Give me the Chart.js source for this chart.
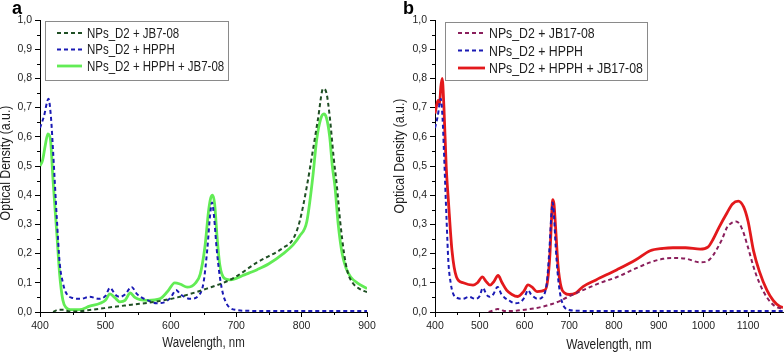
<!DOCTYPE html>
<html>
<head>
<meta charset="utf-8">
<script src="https://cdn.jsdelivr.net/npm/chart.js@4.4.1/dist/chart.umd.min.js"></script>
<style>
  body { margin: 0; background: #fff; width: 784px; height: 352px; overflow: hidden; position: relative; }
  canvas { position: absolute; top: 0; }
  #chartA { left: 0; }
  #chartB { left: 392px; }
</style>
</head>
<body>
<canvas id="chartA" width="392" height="352"></canvas>
<canvas id="chartB" width="392" height="352"></canvas>
<script>
'use strict';

// ---- data (wavelength in nm, optical density in a.u.) ----

// NPs_D2 + HPPH (same spectrum in both panels)
const hpphNm = [400, 406, 413, 417, 420, 426, 430, 435, 440, 450, 462, 476, 490, 500, 507, 515, 522, 530, 540, 548,
  555, 565, 578, 590, 600, 608, 615, 630, 642, 650, 656, 660, 663, 666, 670, 675, 680, 685, 690, 700, 720, 800, 900,
  1000, 1100, 1178];
const hpphOd = [0.63, 0.67, 0.73, 0.66, 0.55, 0.31, 0.17, 0.10, 0.065, 0.048, 0.045, 0.052, 0.045, 0.055, 0.083, 0.06,
  0.052, 0.06, 0.086, 0.062, 0.05, 0.04, 0.03, 0.033, 0.05, 0.075, 0.06, 0.045, 0.055, 0.10, 0.22, 0.33, 0.375, 0.33,
  0.22, 0.12, 0.06, 0.03, 0.015, 0.007, 0.004, 0.003, 0.003, 0.003, 0.003, 0.003];

// panel a: NPs_D2 + JB7-08
const jb7Nm = [420, 428, 436, 445, 455, 480, 511, 540, 576, 610, 655, 695, 732, 772, 787, 797, 808, 817, 825, 833,
  838, 843, 849, 854, 859, 865, 870, 878, 888, 900];
const jb7Od = [0.0, 0.008, 0.008, 0.002, 0.002, 0.008, 0.017, 0.025, 0.035, 0.05, 0.08, 0.115, 0.17, 0.22, 0.25, 0.31,
  0.43, 0.55, 0.66, 0.765, 0.75, 0.67, 0.53, 0.43, 0.31, 0.2, 0.14, 0.10, 0.08, 0.068];

// panel a: NPs_D2 + HPPH + JB7-08
const mixANm = [400, 404, 408, 412, 416, 420, 426, 430, 435, 440, 446, 460, 476, 492, 500, 507, 514, 522, 530, 538,
  545, 553, 565, 583, 595, 606, 615, 625, 638, 645, 652, 658, 661, 664, 667, 671, 675, 682, 690, 700, 710, 720, 732,
  750, 772, 787, 797, 808, 817, 823, 829, 834, 838, 843, 847, 851, 856, 862, 868, 875, 885, 900];
const mixAOd = [0.50, 0.52, 0.57, 0.61, 0.59, 0.45, 0.26, 0.13, 0.04, 0.015, 0.008, 0.008, 0.02, 0.03, 0.04, 0.062,
  0.05, 0.035, 0.04, 0.065, 0.05, 0.042, 0.04, 0.045, 0.07, 0.10, 0.095, 0.085, 0.10, 0.13, 0.22, 0.35, 0.39, 0.40,
  0.37, 0.25, 0.16, 0.115, 0.11, 0.115, 0.125, 0.134, 0.145, 0.165, 0.20, 0.23, 0.26, 0.31, 0.46, 0.59, 0.66, 0.678,
  0.665, 0.60, 0.50, 0.43, 0.30, 0.20, 0.15, 0.12, 0.10, 0.08];

// panel b: NPs_D2 + JB17-08
const jb17Nm = [520, 530, 540, 548, 556, 570, 590, 620, 650, 680, 695, 731, 770, 807, 850, 881, 910, 932, 960, 993,
  1010, 1022, 1030, 1042, 1053, 1063, 1073, 1085, 1100, 1112, 1125, 1142, 1160, 1178];
const jb17Od = [0.0, 0.005, 0.01, 0.008, 0.003, 0.003, 0.006, 0.012, 0.022, 0.038, 0.05, 0.075, 0.10, 0.12, 0.15,
  0.17, 0.182, 0.185, 0.183, 0.17, 0.175, 0.195, 0.215, 0.25, 0.29, 0.305, 0.31, 0.29, 0.22, 0.155, 0.10, 0.05, 0.02,
  0.01];

// panel b: NPs_D2 + HPPH + JB17-08
const mixBNm = [400, 404, 407, 410, 413, 416, 420, 425, 430, 438, 448, 463, 485, 495, 506, 514, 523, 532, 541, 550,
  560, 572, 585, 598, 608, 617, 628, 646, 652, 657, 660, 663, 666, 670, 675, 682, 690, 700, 715, 731, 760, 807, 850,
  881, 910, 932, 960, 993, 1010, 1022, 1035, 1053, 1065, 1078, 1090, 1100, 1112, 1125, 1142, 1156, 1170, 1178];
const mixBOd = [0.68, 0.71, 0.725, 0.71, 0.77, 0.80, 0.70, 0.50, 0.38, 0.21, 0.12, 0.10, 0.092, 0.10, 0.12, 0.105,
  0.092, 0.105, 0.125, 0.10, 0.075, 0.06, 0.053, 0.07, 0.093, 0.085, 0.07, 0.075, 0.11, 0.20, 0.30, 0.385, 0.37, 0.28,
  0.16, 0.085, 0.065, 0.06, 0.065, 0.087, 0.11, 0.145, 0.18, 0.21, 0.218, 0.22, 0.22, 0.215, 0.222, 0.25, 0.29, 0.34,
  0.37, 0.38, 0.36, 0.31, 0.21, 0.14, 0.075, 0.04, 0.02, 0.015];

const labelsA = ['NPs_D2 + JB7-08', 'NPs_D2 + HPPH', 'NPs_D2 + HPPH + JB7-08'];
const labelsB = ['NPs_D2 + JB17-08', 'NPs_D2 + HPPH', 'NPs_D2 + HPPH + JB17-08'];

const SANS = "'Liberation Sans', Arial, sans-serif";
const TEXT = '#1e1e1e';
const SQUEEZE = 0.82;   // Arial Narrow look

const pts = (xs, ys) => xs.map((x, i) => ({ x: x, y: ys[i] }));

function series(label, xs, ys, color, width, dash) {
  return {
    label: label,
    data: pts(xs, ys),
    borderColor: color,
    borderWidth: width,
    borderDash: dash,
    pointRadius: 0,
    fill: false,
    cubicInterpolationMode: 'monotone'
  };
}

// text in a horizontally squeezed Liberation Sans
function narrowText(ctx, text, x, y, size, align, angle) {
  ctx.save();
  ctx.translate(x, y);
  if (angle) ctx.rotate(angle);
  ctx.scale(SQUEEZE, 1);
  ctx.font = size + 'px ' + SANS;
  ctx.fillStyle = TEXT;
  ctx.textAlign = align;
  ctx.textBaseline = 'middle';
  ctx.fillText(text, 0, 0);
  ctx.restore();
}

// minor ticks, legend box, axis titles and panel letter
const decor = {
  id: 'decor',
  afterDraw(chart, args, opts) {
    const ctx = chart.ctx;
    const area = chart.chartArea;
    const xs = chart.scales.x;
    const ys = chart.scales.y;
    ctx.save();

    // minor ticks
    ctx.strokeStyle = '#000';
    ctx.lineWidth = 1;
    ctx.beginPath();
    for (let v = xs.min + 50; v < xs.max; v += 100) {
      const px = Math.round(xs.getPixelForValue(v)) + 0.5;
      ctx.moveTo(px, area.bottom);
      ctx.lineTo(px, area.bottom + 3);
    }
    for (let k = 1; k < 20; k += 2) {
      const py = Math.round(ys.getPixelForValue(k * 0.05)) + 0.5;
      ctx.moveTo(area.left, py);
      ctx.lineTo(area.left - 3, py);
    }
    ctx.stroke();

    // legend
    const b = opts.box;
    ctx.strokeStyle = '#8a8a8a';
    ctx.strokeRect(b.x + 0.5, b.y + 0.5, b.w, b.h);
    chart.data.datasets.forEach((ds, i) => {
      const y = b.y + b.row0 + i * b.gap;
      ctx.beginPath();
      ctx.setLineDash(ds.borderDash || []);
      ctx.strokeStyle = ds.borderColor;
      ctx.lineWidth = ds.borderWidth;
      ctx.moveTo(b.x + b.l0, y);
      ctx.lineTo(b.x + b.l1, y);
      ctx.stroke();
      ctx.setLineDash([]);
      narrowText(ctx, ds.label, b.x + b.tx, y + 1, b.font, 'left', 0);
    });

    // axis titles
    narrowText(ctx, 'Optical Density (a.u.)', opts.yTitle.x, opts.yTitle.y, opts.yTitle.font, 'center', -Math.PI / 2);
    narrowText(ctx, 'Wavelength, nm', (area.left + area.right) / 2, opts.xTitle.y, opts.xTitle.font, 'center', 0);

    // panel letter
    ctx.font = 'bold 18px ' + SANS;
    ctx.fillStyle = '#000';
    ctx.textAlign = 'left';
    ctx.textBaseline = 'alphabetic';
    ctx.fillText(opts.letter, opts.letterX, 14);
    ctx.restore();
  }
};

function makeChart(id, datasets, xMax, yAxisWidth, padRight, decorOpts) {
  return new Chart(document.getElementById(id), {
    type: 'line',
    data: { datasets: datasets },
    plugins: [decor],
    options: {
      responsive: false,
      animation: false,
      devicePixelRatio: 1,
      layout: { padding: { top: 20, right: padRight, left: 0, bottom: 0 } },
      plugins: {
        legend: { display: false },
        tooltip: { enabled: false },
        decor: decorOpts
      },
      scales: {
        x: {
          type: 'linear',
          min: 400,
          max: xMax,
          border: { display: true, color: '#000', width: 1 },
          grid: { display: true, drawOnChartArea: false, drawTicks: true, tickLength: 5, color: '#000' },
          ticks: {
            stepSize: 100,
            autoSkip: false,
            maxRotation: 0,
            includeBounds: false,
            padding: 3,
            color: TEXT,
            font: { family: SANS, size: 10.5 },
            callback: v => String(v)
          },
          title: { display: false },
          afterFit: s => { s.height = 40; }
        },
        y: {
          min: 0,
          max: 1,
          border: { display: true, color: '#000', width: 1 },
          grid: { display: true, drawOnChartArea: false, drawTicks: true, tickLength: 5, color: '#000' },
          ticks: {
            stepSize: 0.1,
            autoSkip: false,
            padding: 3,
            color: TEXT,
            font: { family: SANS, size: 10.5 },
            callback: v => v.toFixed(1).replace('.', ',')
          },
          title: { display: false },
          afterFit: s => { s.width = yAxisWidth; }
        }
      }
    }
  });
}

makeChart('chartA', [
  series(labelsA[0], jb7Nm, jb7Od, '#1f4f24', 2, [4, 3]),
  series(labelsA[1], hpphNm, hpphOd, '#1a1ab4', 2, [4, 3]),
  series(labelsA[2], mixANm, mixAOd, '#62ec55', 2.8, [])
], 900, 40, 25, {
  box: { x: 45, y: 21, w: 183, h: 59, row0: 12, gap: 16.5, l0: 12, l1: 37, tx: 42, font: 14 },
  yTitle: { x: 6, y: 163, font: 15 },
  xTitle: { y: 343, font: 14 },
  letter: 'a',
  letterX: 12
});

makeChart('chartB', [
  series(labelsB[0], jb17Nm, jb17Od, '#8a1f5c', 2, [4, 3]),
  series(labelsB[1], hpphNm, hpphOd, '#1a1ab4', 2, [4, 3]),
  series(labelsB[2], mixBNm, mixBOd, '#e3191c', 2.8, [])
], 1178, 43, 1, {
  box: { x: 53, y: 22, w: 202, h: 58, row0: 11, gap: 17.5, l0: 13, l1: 40, tx: 44, font: 15 },
  yTitle: { x: 8, y: 156, font: 15 },
  xTitle: { y: 345, font: 14.5 },
  letter: 'b',
  letterX: 11
});
</script>
</body>
</html>
